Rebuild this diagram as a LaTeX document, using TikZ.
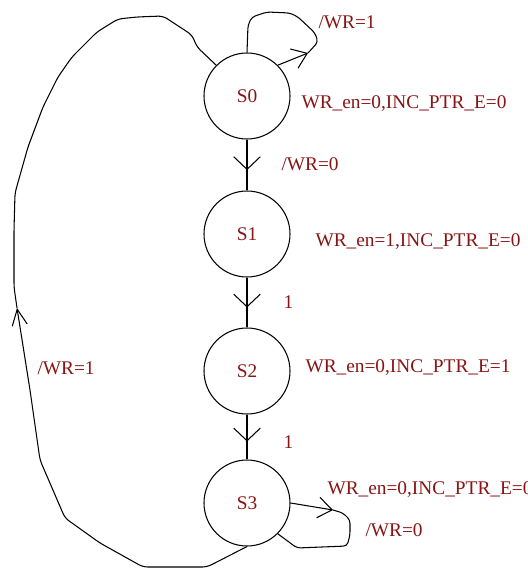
\documentclass[tikz,border=0pt]{standalone}
\usepackage{fontspec}
\setmainfont{Liberation Serif}
\usepackage{tikz}
\usetikzlibrary{arrows.meta,decorations.markings}
\definecolor{dred}{RGB}{136,20,20}
\tikzset{
  state/.style={circle,draw,line width=0.9pt,minimum size=2.58cm,inner sep=0pt,text=dred,font=\fontsize{16.5}{19}\selectfont},
  lbl/.style={anchor=west,inner sep=0pt,text=dred,font=\fontsize{16.5}{19}\selectfont},
  barb/.style={-{Straight Barb[length=0.42cm,width=0.62cm,line width=0.9pt]}},
  smallbarb/.style={-{Straight Barb[length=0.48cm,width=0.45cm,line width=0.9pt]}},
  tran/.style={line width=1.3pt,postaction={decorate},decoration={markings,mark=at position 0.6 with {\arrow{Straight Barb[length=0.38cm,width=0.8cm,line width=0.9pt]}}}}
}

\begin{document}
\begin{tikzpicture}[x=0.03cm,y=-0.03cm,line width=0.9pt]
            \useasboundingbox (0,0) rectangle (527,568);
            \node[state] (S0) at (247,96) {S0};
            \node[state] (S1) at (247,234) {S1};
            \node[state] (S2) at (247,371) {S2};
            \node[state] (S3) at (247,503) {S3};
            \draw[tran] (S0) -- (S1);
            \draw[tran] (S1) -- (S2);
            \draw[tran] (S2) -- (S3);
            \coordinate (t0) at (308,53);
            \coordinate (t3) at (333,510);
            \coordinate (tb) at (17,308);
            \draw[barb] (S0.45) -- (t0);
            \draw[rounded corners=3pt] (t0) -- (318,42) -- (315,33) -- (298,17) -- (290,13) -- (267,12) -- (252,17) -- (248,25) -- (S0.north);
            \draw[barb] (S3.0) -- (t3);
            \draw[rounded corners=3pt] (t3) -- (343,513) -- (350,520) -- (350,535) -- (347,546) -- (322,547) -- (297,548) -- (S3.-45);
            \draw[smallbarb,rounded corners=4pt] (S3.south) -- (207,567) -- (143,567) -- (100,543) -- (65,518) -- (40,460) -- (30,390) -- (tb);
            \draw[rounded corners=4pt] (tb) -- (14,287) -- (14,230) -- (15,193) -- (28,147) -- (43,107) -- (58,77) -- (72,57) -- (97,32) -- (118,19) -- (137,17) -- (163,16) -- (192,35) -- (197,47) -- (S0.135);
            \node[lbl] (l0) at (318,22) {/WR=1};
            \node[lbl] (o0) at (301,104) {WR\_en=0,INC\_PTR\_E=0};
            \node[lbl] (l1) at (281,164) {/WR=0};
            \node[lbl] (o1) at (315,242) {WR\_en=1,INC\_PTR\_E=0};
            \node[lbl] (l2) at (283,302) {1};
            \node[lbl] (o2) at (305,368) {WR\_en=0,INC\_PTR\_E=1};
            \node[lbl] (l3) at (283,442) {1};
            \node[lbl] (o3) at (327,490) {WR\_en=0,INC\_PTR\_E=0};
            \node[lbl] (l4) at (365,530) {/WR=0};
            \node[lbl] (l5) at (37,368) {/WR=1};
        \end{tikzpicture}
\end{document}
